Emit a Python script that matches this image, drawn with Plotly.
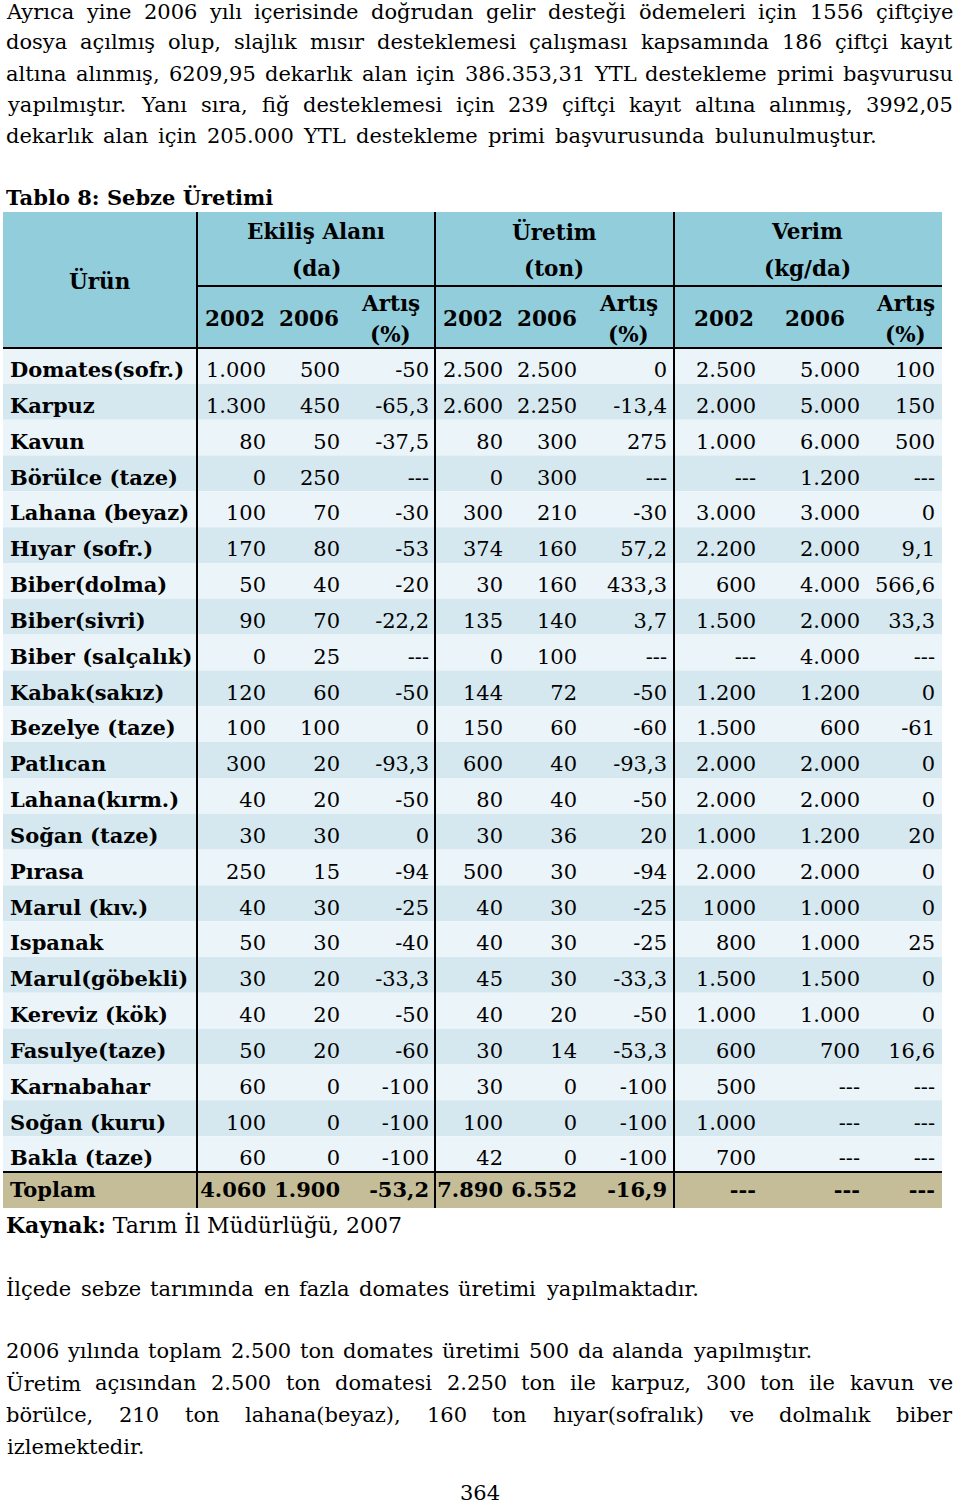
import plotly.graph_objects as go

# ---------------- data ----------------
products = ["Domates(sofr.)", "Karpuz", "Kavun", "Börülce (taze)", "Lahana (beyaz)",
            "Hıyar (sofr.)", "Biber(dolma)", "Biber(sivri)", "Biber (salçalık)",
            "Kabak(sakız)", "Bezelye (taze)", "Patlıcan", "Lahana(kırm.)", "Soğan (taze)",
            "Pırasa", "Marul (kıv.)", "Ispanak", "Marul(göbekli)", "Kereviz (kök)",
            "Fasulye(taze)", "Karnabahar", "Soğan (kuru)", "Bakla (taze)"]
alan_2002 = ["1.000", "1.300", "80", "0", "100", "170", "50", "90", "0", "120", "100", "300",
             "40", "30", "250", "40", "50", "30", "40", "50", "60", "100", "60"]
alan_2006 = ["500", "450", "50", "250", "70", "80", "40", "70", "25", "60", "100", "20",
             "20", "30", "15", "30", "30", "20", "20", "20", "0", "0", "0"]
alan_artis = ["-50", "-65,3", "-37,5", "---", "-30", "-53", "-20", "-22,2", "---", "-50", "0",
              "-93,3", "-50", "0", "-94", "-25", "-40", "-33,3", "-50", "-60", "-100", "-100", "-100"]
uretim_2002 = ["2.500", "2.600", "80", "0", "300", "374", "30", "135", "0", "144", "150", "600",
               "80", "30", "500", "40", "40", "45", "40", "30", "30", "100", "42"]
uretim_2006 = ["2.500", "2.250", "300", "300", "210", "160", "160", "140", "100", "72", "60", "40",
               "40", "36", "30", "30", "30", "30", "20", "14", "0", "0", "0"]
uretim_artis = ["0", "-13,4", "275", "---", "-30", "57,2", "433,3", "3,7", "---", "-50", "-60",
                "-93,3", "-50", "20", "-94", "-25", "-25", "-33,3", "-50", "-53,3", "-100", "-100", "-100"]
verim_2002 = ["2.500", "2.000", "1.000", "---", "3.000", "2.200", "600", "1.500", "---", "1.200",
              "1.500", "2.000", "2.000", "1.000", "2.000", "1000", "800", "1.500", "1.000", "600",
              "500", "1.000", "700"]
verim_2006 = ["5.000", "5.000", "6.000", "1.200", "3.000", "2.000", "4.000", "2.000", "4.000",
              "1.200", "600", "2.000", "2.000", "1.200", "2.000", "1.000", "1.000", "1.500",
              "1.000", "700", "---", "---", "---"]
verim_artis = ["100", "150", "500", "---", "0", "9,1", "566,6", "33,3", "---", "0", "-61", "0",
               "0", "20", "0", "0", "25", "0", "0", "16,6", "---", "---", "---"]
total_label = "Toplam"
total_values = ["4.060", "1.900", "-53,2", "7.890", "6.552", "-16,9", "---", "---", "---"]

group_titles = ["Ekiliş Alanı", "Üretim", "Verim"]
group_units = ["(da)", "(ton)", "(kg/da)"]
sub_years = ["2002", "2006"]
row_header = "Ürün"
change_label = "Artış"
change_unit = "(%)"

table_title = "Tablo 8: Sebze Üretimi"
source_line = "<b>Kaynak:</b> Tarım İl Müdürlüğü, 2007"

text_lines = [
    "Ayrıca yine 2006 yılı içerisinde doğrudan gelir desteği ödemeleri için 1556 çiftçiye",
    "dosya açılmış olup, slajlık mısır desteklemesi çalışması kapsamında 186 çiftçi kayıt",
    "altına alınmış, 6209,95 dekarlık alan için 386.353,31 YTL destekleme primi başvurusu",
    "yapılmıştır. Yanı sıra, fiğ desteklemesi için 239 çiftçi kayıt altına alınmış, 3992,05",
    "dekarlık alan için 205.000 YTL destekleme primi başvurusunda bulunulmuştur.",
    "İlçede sebze tarımında en fazla domates üretimi yapılmaktadır.",
    "2006 yılında toplam 2.500 ton domates üretimi 500 da alanda yapılmıştır.",
    "Üretim açısından 2.500 ton domatesi 2.250 ton ile karpuz, 300 ton ile kavun ve",
    "börülce, 210 ton lahana(beyaz), 160 ton hıyar(sofralık) ve dolmalık biber",
    "izlemektedir.",
]
page_number = "364"

# ---------------- layout constants ----------------
W, H = 960, 1504
FONT = "DejaVu Serif"
FS_BODY = 21
FS_TAB = 21
FS_HDR = 21.5
X_L, X_R = 3, 942
V_LINES = [197, 435, 674]
HDR_TOP, HDR_MID, HDR_BOT = 212, 286, 348
ROWS_BOT = 1172
TOT_BOT = 1208
N = len(products)
ROW_H = (ROWS_BOT - HDR_BOT) / N
TEXT_DY = 6
COL_RIGHT = [266, 340, 429, 503, 577, 667, 756, 860, 935]
SUB_CENTERS = [[235, 309, 390], [473, 547, 628], [724, 815, 905]]
GROUP_CENTERS = [316, 554, 807]
HDR_FILL = "#92CDDC"
ROW_FILLS = ["#EBF4F8", "#D5E8EF"]
TOT_FILL = "#C4BD97"

# each prose line: vertical centre and the left/right edges it spans on the page
line_y = [12, 42, 74, 105, 136, 1289, 1351, 1383, 1415, 1447]
line_span = [(6, 953), (6, 953), (6, 953), (6, 953), (6, 878),
             (6, 700), (6, 813), (6, 953), (6, 953), (6, 150)]

# approximate DejaVu Serif advance widths (em) used to spread words along a line
_W = {" ": .318, ",": .318, ".": .318, "-": .338, "(": .390, ")": .390, "/": .337, ":": .337,
      "a": .596, "b": .640, "c": .562, "d": .640, "e": .592, "f": .371, "g": .640, "h": .644,
      "i": .320, "j": .320, "k": .602, "l": .320, "m": .952, "n": .644, "o": .602, "p": .640,
      "q": .640, "r": .478, "s": .514, "t": .402, "u": .644, "v": .565, "w": .830, "x": .565,
      "y": .565, "z": .527, "ı": .320, "ş": .514, "ç": .562, "ğ": .640, "ö": .602, "ü": .644,
      "A": .722, "Y": .680, "T": .680, "L": .633, "İ": .404, "Ü": .787}
for _d in "0123456789":
    _W[_d] = .636


def word_width(word, size):
    return sum(_W.get(ch, .6) for ch in word) * size


fig = go.Figure()
shapes = []
annots = []

# header background
shapes.append(dict(type="rect", xref="x", yref="y", x0=X_L, x1=X_R, y0=HDR_TOP, y1=HDR_BOT,
                   fillcolor=HDR_FILL, line=dict(width=0), layer="below"))
# data rows
row_centers = []
for i in range(N):
    y0 = HDR_BOT + i * ROW_H
    row_centers.append(y0 + ROW_H / 2 + TEXT_DY)
    shapes.append(dict(type="rect", xref="x", yref="y", x0=X_L, x1=X_R, y0=y0, y1=y0 + ROW_H,
                       fillcolor=ROW_FILLS[i % 2], line=dict(width=0), layer="below"))
# total row
shapes.append(dict(type="rect", xref="x", yref="y", x0=X_L, x1=X_R, y0=ROWS_BOT, y1=TOT_BOT,
                   fillcolor=TOT_FILL, line=dict(width=0), layer="below"))
tot_center = (ROWS_BOT + TOT_BOT) / 2 + 2

# rules
line_style = dict(color="black", width=2)
for xv in V_LINES:
    shapes.append(dict(type="line", xref="x", yref="y", x0=xv, x1=xv, y0=HDR_TOP, y1=TOT_BOT,
                       line=line_style))
shapes.append(dict(type="line", xref="x", yref="y", x0=V_LINES[0], x1=X_R, y0=HDR_MID, y1=HDR_MID,
                   line=line_style))
for yv in (HDR_BOT, ROWS_BOT):
    shapes.append(dict(type="line", xref="x", yref="y", x0=X_L, x1=X_R, y0=yv, y1=yv,
                       line=line_style))

# table body text
columns = [alan_2002, alan_2006, alan_artis, uretim_2002, uretim_2006, uretim_artis,
           verim_2002, verim_2006, verim_artis]
fig.add_trace(go.Scatter(x=[10] * N, y=row_centers, text=products, mode="text",
                         textposition="middle right", hoverinfo="skip",
                         textfont=dict(family=FONT, size=FS_TAB, color="black", weight="bold")))
for col, xr in zip(columns, COL_RIGHT):
    fig.add_trace(go.Scatter(x=[xr] * N, y=row_centers, text=col, mode="text",
                             textposition="middle left", hoverinfo="skip",
                             textfont=dict(family=FONT, size=FS_TAB, color="black")))
# total row text
fig.add_trace(go.Scatter(x=[10], y=[tot_center], text=[total_label], mode="text",
                         textposition="middle right", hoverinfo="skip",
                         textfont=dict(family=FONT, size=FS_TAB, color="black", weight="bold")))
fig.add_trace(go.Scatter(x=COL_RIGHT, y=[tot_center] * len(total_values), text=total_values,
                         mode="text", textposition="middle left", hoverinfo="skip",
                         textfont=dict(family=FONT, size=FS_TAB, color="black", weight="bold")))


def ann(x, y, text, anchor="left", bold=False, size=FS_BODY):
    annots.append(dict(x=x, y=y, xref="x", yref="y", text=(f"<b>{text}</b>" if bold else text),
                       showarrow=False, xanchor=anchor, yanchor="middle",
                       font=dict(family=FONT, size=size, color="black")))


# header text
ann(100, 280, row_header, "center", True, FS_HDR)
for g in range(3):
    cx = GROUP_CENTERS[g]
    ann(cx, 231, group_titles[g], "center", True, FS_HDR)
    ann(cx, 268, group_units[g], "center", True, FS_HDR)
    ann(SUB_CENTERS[g][0], 318, sub_years[0], "center", True, FS_HDR)
    ann(SUB_CENTERS[g][1], 318, sub_years[1], "center", True, FS_HDR)
    ann(SUB_CENTERS[g][2], 303, change_label, "center", True, FS_HDR)
    ann(SUB_CENTERS[g][2], 334, change_unit, "center", True, FS_HDR)

# title and source
ann(4, 197, table_title, "left", True, 21)
ann(4, 1225, source_line, "left", False, 22)

# prose: words spread evenly between the line's edges (justified like the page)
for line, (left, right), y in zip(text_lines, line_span, line_y):
    words = line.split(" ")
    widths = [word_width(w, FS_BODY) for w in words]
    gap = (right - left - sum(widths)) / (len(words) - 1) if len(words) > 1 else 0
    x = left
    for w, ww in zip(words, widths):
        ann(x + ww / 2, y, w, "center")
        x += ww + gap
ann(480, 1493, page_number, "center")

fig.update_layout(
    width=W, height=H, margin=dict(l=0, r=0, t=0, b=0, pad=0), autosize=False,
    paper_bgcolor="white", plot_bgcolor="white", showlegend=False,
    xaxis=dict(range=[0, W], visible=False, fixedrange=True),
    yaxis=dict(range=[H, 0], visible=False, fixedrange=True),
    shapes=shapes, annotations=annots,
)
fig.write_html("out.html", config={"displayModeBar": False, "staticPlot": True},
               post_script="document.body.style.margin='0px';")
